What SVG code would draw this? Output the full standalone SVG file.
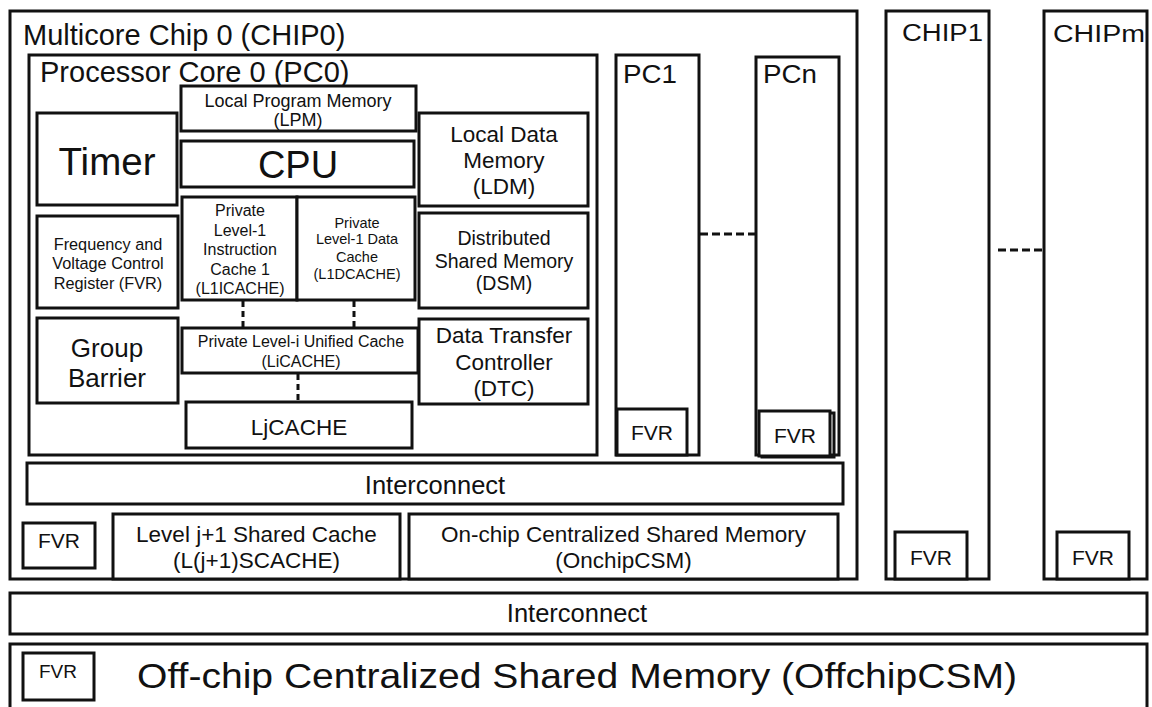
<svg xmlns="http://www.w3.org/2000/svg" width="1152" height="707" viewBox="0 0 1152 707">
  <style>
    .box { fill: #ffffff; stroke: #111111; stroke-width: 3; }
    .bare { fill: none; stroke: #111111; stroke-width: 3; }
    text { font-family: "Liberation Sans", Arial, Helvetica, sans-serif; fill: #111111; }
    .c { text-anchor: middle; }
    .dash { fill: none; stroke: #111111; stroke-width: 3; }
  </style>
  <rect x="0" y="0" width="1152" height="707" fill="#ffffff"/>

  <!-- Chip 0 container -->
  <g id="chip0">
    <rect class="box" x="10" y="11" width="847" height="568"/>
    <text x="23" y="45" font-size="29">Multicore Chip 0 (CHIP0)</text>
  </g>

  <!-- Processor core 0 -->
  <g id="pc0">
    <rect class="box" x="29" y="55" width="568" height="400"/>
    <text x="40" y="82" font-size="29">Processor Core 0 (PC0)</text>
  </g>

  <g id="lpm">
    <rect class="box" x="181" y="86" width="235" height="45"/>
    <text class="c" x="298" y="107" font-size="18">Local Program Memory</text>
    <text class="c" x="298" y="126" font-size="18">(LPM)</text>
  </g>

  <g id="cpu">
    <rect class="box" x="181" y="141" width="233" height="46"/>
    <text class="c" x="298" y="178" font-size="38">CPU</text>
  </g>

  <g id="timer">
    <rect class="box" x="37" y="113" width="140" height="92"/>
    <text class="c" x="107" y="175" font-size="38.5">Timer</text>
  </g>

  <g id="fvr-pc0">
    <rect class="box" x="37" y="216" width="141" height="92"/>
    <text class="c" x="108" y="250" font-size="16.3">Frequency and</text>
    <text class="c" x="108" y="269" font-size="16.3">Voltage Control</text>
    <text class="c" x="108" y="289" font-size="16.3">Register (FVR)</text>
  </g>

  <g id="l1icache">
    <rect class="box" x="182" y="197" width="115" height="103"/>
    <text class="c" x="240" y="216" font-size="16">Private</text>
    <text class="c" x="240" y="236" font-size="16">Level-1</text>
    <text class="c" x="240" y="255" font-size="16">Instruction</text>
    <text class="c" x="240" y="275" font-size="16">Cache 1</text>
    <text class="c" x="240" y="294" font-size="16">(L1ICACHE)</text>
  </g>

  <g id="l1dcache">
    <rect class="box" x="297" y="197" width="118" height="103"/>
    <text class="c" x="357" y="228" font-size="14.5">Private</text>
    <text class="c" x="357" y="244" font-size="14.5">Level-1 Data</text>
    <text class="c" x="357" y="262" font-size="14.5">Cache</text>
    <text class="c" x="357" y="279" font-size="14.5">(L1DCACHE)</text>
  </g>

  <g id="licache">
    <rect class="box" x="182" y="328" width="236" height="45"/>
    <text class="c" x="301" y="347" font-size="16">Private Level-i Unified Cache</text>
    <text class="c" x="301" y="367" font-size="16">(LiCACHE)</text>
  </g>

  <g id="ljcache">
    <rect class="box" x="186" y="402" width="226" height="46"/>
    <text class="c" x="299" y="435" font-size="22.5">LjCACHE</text>
  </g>

  <g id="group-barrier">
    <rect class="box" x="37" y="318" width="141" height="85"/>
    <text class="c" x="107" y="357" font-size="26">Group</text>
    <text class="c" x="107" y="387" font-size="26">Barrier</text>
  </g>

  <g id="ldm">
    <rect class="box" x="419" y="113" width="169" height="93"/>
    <text class="c" x="504" y="142" font-size="22.5">Local Data</text>
    <text class="c" x="504" y="168" font-size="22.5">Memory</text>
    <text class="c" x="504" y="194" font-size="22.5">(LDM)</text>
  </g>

  <g id="dsm">
    <rect class="box" x="419" y="213" width="169" height="95"/>
    <text class="c" x="504" y="245" font-size="19.5">Distributed</text>
    <text class="c" x="504" y="268" font-size="19.5">Shared Memory</text>
    <text class="c" x="504" y="290" font-size="19.5">(DSM)</text>
  </g>

  <g id="dtc">
    <rect class="box" x="419" y="319" width="169" height="85"/>
    <text class="c" x="504" y="343" font-size="22.5">Data Transfer</text>
    <text class="c" x="504" y="370" font-size="22.5">Controller</text>
    <text class="c" x="504" y="396" font-size="22.5">(DTC)</text>
  </g>

  <!-- Other processor cores -->
  <g id="pc1">
    <rect class="box" x="616" y="55" width="83" height="400"/>
    <text x="623" y="83" font-size="26" textLength="54" lengthAdjust="spacingAndGlyphs">PC1</text>
    <rect class="box" x="617" y="409" width="70" height="46"/>
    <text class="c" x="652" y="440" font-size="21">FVR</text>
  </g>

  <g id="pcn">
    <rect class="box" x="756" y="57" width="83" height="398"/>
    <text x="763" y="83" font-size="26" textLength="54" lengthAdjust="spacingAndGlyphs">PCn</text>
    <rect class="bare" x="762" y="413" width="72" height="44"/>
    <rect class="box" x="759" y="411" width="71" height="45"/>
    <text class="c" x="795" y="443" font-size="21">FVR</text>
  </g>

  <!-- On-chip shared resources -->
  <g id="interconnect-chip">
    <rect class="box" x="27" y="463" width="816" height="41"/>
    <text class="c" x="435" y="494" font-size="25.5">Interconnect</text>
  </g>

  <g id="fvr-chip0">
    <rect class="box" x="23" y="523" width="72" height="45"/>
    <text class="c" x="59" y="548" font-size="21">FVR</text>
  </g>

  <g id="scache">
    <rect class="box" x="113" y="514" width="287" height="65"/>
    <text class="c" x="256.5" y="542" font-size="22.5">Level j+1 Shared Cache</text>
    <text class="c" x="256.5" y="568" font-size="22.5">(L(j+1)SCACHE)</text>
  </g>

  <g id="onchip-csm">
    <rect class="box" x="409" y="514" width="429" height="65"/>
    <text class="c" x="623.5" y="542" font-size="22.5">On-chip Centralized Shared Memory</text>
    <text class="c" x="623.5" y="568" font-size="22.5">(OnchipCSM)</text>
  </g>

  <!-- Other chips -->
  <g id="chip1">
    <rect class="box" x="886" y="11" width="103" height="568"/>
    <text x="902" y="41" font-size="23" textLength="81" lengthAdjust="spacingAndGlyphs">CHIP1</text>
    <rect class="box" x="895" y="532" width="72" height="47"/>
    <text class="c" x="931" y="565" font-size="21">FVR</text>
  </g>

  <g id="chipm">
    <rect class="box" x="1044" y="11" width="103" height="568"/>
    <text x="1053" y="42" font-size="23" textLength="92" lengthAdjust="spacingAndGlyphs">CHIPm</text>
    <rect class="box" x="1057" y="532" width="72" height="47"/>
    <text class="c" x="1093" y="565" font-size="21">FVR</text>
  </g>

  <!-- System level -->
  <g id="interconnect-system">
    <rect class="box" x="10" y="593" width="1137" height="41"/>
    <text class="c" x="577" y="622" font-size="25.5">Interconnect</text>
  </g>

  <g id="offchip-csm">
    <rect class="box" x="10" y="644" width="1137" height="70"/>
    <rect class="box" x="23" y="653" width="71" height="47"/>
    <text class="c" x="58" y="678" font-size="19">FVR</text>
    <text x="137" y="688" font-size="35" textLength="880" lengthAdjust="spacingAndGlyphs">Off-chip Centralized Shared Memory (OffchipCSM)</text>
  </g>

  <!-- Dashed links -->
  <g id="connectors">
    <line class="dash" x1="243" y1="301" x2="243" y2="327" stroke-dasharray="6 4"/>
    <line class="dash" x1="354" y1="301" x2="354" y2="327" stroke-dasharray="6 4"/>
    <line class="dash" x1="298" y1="374" x2="298" y2="404" stroke-dasharray="6 4"/>
    <line class="dash" x1="700" y1="234" x2="755" y2="234" stroke-dasharray="8 4"/>
    <line class="dash" x1="998" y1="250" x2="1043" y2="250" stroke-dasharray="8 4"/>
  </g>
</svg>
